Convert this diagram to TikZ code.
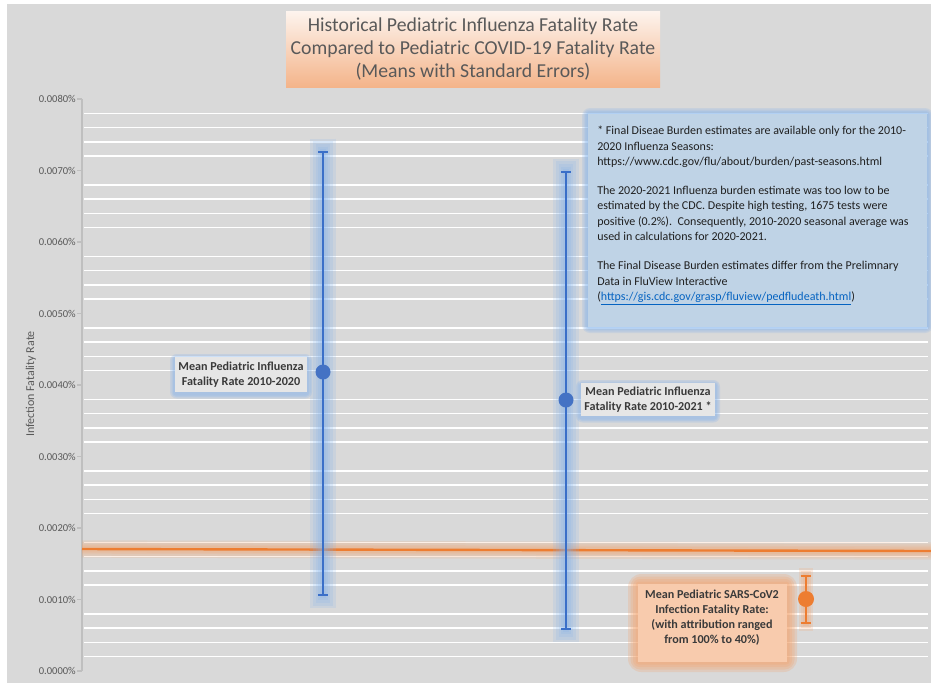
\documentclass[tikz,border=0pt]{standalone}
\usepackage{fontspec}
\setmainfont{Carlito}
\definecolor{bg}{HTML}{D9D9D9}
\definecolor{txtgray}{HTML}{595959}
\definecolor{darktxt}{HTML}{3A3A3A}
\definecolor{axisgray}{HTML}{BFBFBF}
\definecolor{bluecore}{HTML}{3A6FC8}
\definecolor{blueglow}{HTML}{7FB0EC}
\definecolor{bluemark}{HTML}{4472C4}
\definecolor{orangecore}{HTML}{ED7D31}
\definecolor{orangeglow}{HTML}{F4A46E}
\definecolor{orangefill}{HTML}{F8CBAD}
\definecolor{notefill}{HTML}{BFD3E6}
\definecolor{linkblue}{HTML}{0563C1}
\definecolor{titletop}{HTML}{FDF4EE}
\definecolor{titlebot}{HTML}{F4B48A}
\definecolor{labelfill}{HTML}{E6E6E6}
\tikzset{
  ticklbl/.style={anchor=east, text=txtgray, font=\fontsize{7.9}{8}\selectfont, inner sep=0pt},
  gridln/.style={white, line width=1.1pt},
  bcore/.style={bluecore, line width=1.6pt},
  ocore/.style={orangecore, line width=1.8pt},
  meanlbl/.style={text=darktxt, font=\bfseries\fontsize{9.1}{11.3}\selectfont, align=center, inner sep=0pt},
}
\begin{document}
\begin{tikzpicture}[x=0.75pt,y=-0.75pt]
\useasboundingbox (0,0) rectangle (931,683);
\fill[white] (0,0) rectangle (931,683);
\fill[bg] (7,4) rectangle (931,683);
% gridlines (minor only)
\foreach \m in {0,...,7}{
  \foreach \k in {1,...,4}{
    \draw[gridln] (84,{671-(\m*5+\k)*14.3}) -- (928,{671-(\m*5+\k)*14.3});
  }
}
% axis
\draw[axisgray, line width=0.8pt] (82,99) -- (82,671);
\foreach \i/\t in {0/0.0000\%,1/0.0010\%,2/0.0020\%,3/0.0030\%,4/0.0040\%,5/0.0050\%,6/0.0060\%,7/0.0070\%,8/0.0080\%}{
  \draw[axisgray, line width=0.8pt] (77,{671-\i*71.5}) -- (82,{671-\i*71.5});
  \node[ticklbl] (tl\i) at (76,{671-\i*71.5}) {\t};
}
\node[rotate=90, text=txtgray, font=\fontsize{9}{10}\selectfont] (ytitle) at (31,384) {Infection Fatality Rate};

% title
\shade[top color=titletop, bottom color=titlebot] (286,11) rectangle (660,87);
\node[text=txtgray, font=\fontsize{14.8}{17.3}\selectfont, align=center] (title) at (473,49)
  {Historical Pediatric Influenza Fatality Rate\\Compared to Pediatric COVID-19 Fatality Rate\\(Means with Standard Errors)};

% orange horizontal line with glow
\coordinate (oL) at (82,549);
\coordinate (oR) at (931,551);
\foreach \w in {13,10,7,5}{
  \draw[orangeglow, line width=\w pt, opacity=0.17] (oL) -- (oR);
}
\draw[ocore] (oL) -- (oR);

% blue error bar 1
\coordinate (b1t) at (323,152);
\coordinate (b1b) at (323,595);
\coordinate (b1m) at (323,372);
\foreach \w/\e in {19/10,15/8,11/6,8/4,5/2}{
  \draw[blueglow, line width=\w pt, opacity=0.16] ([yshift=\e]b1t) -- ([yshift=-\e]b1b);
}
\draw[bcore] (b1t) -- (b1b);
\draw[bcore] ([xshift=-3.5]b1t) -- ([xshift=3.5]b1t);
\draw[bcore] ([xshift=-3.5]b1b) -- ([xshift=3.5]b1b);
\fill[bluemark] (b1m) circle (7.5);

% blue error bar 2
\coordinate (b2t) at (566,172);
\coordinate (b2b) at (566,629);
\coordinate (b2m) at (566,400);
\foreach \w/\e in {19/10,15/8,11/6,8/4,5/2}{
  \draw[blueglow, line width=\w pt, opacity=0.16] ([yshift=\e]b2t) -- ([yshift=-\e]b2b);
}
\draw[bcore] (b2t) -- (b2b);
\draw[bcore] ([xshift=-3.5]b2t) -- ([xshift=3.5]b2t);
\draw[bcore] ([xshift=-3.5]b2b) -- ([xshift=3.5]b2b);
\fill[bluemark] (b2m) circle (7.5);

% orange error bar
\coordinate (o1t) at (806,576);
\coordinate (o1b) at (806,623);
\coordinate (o1m) at (806,599);
\foreach \w/\e in {11/6,8/4,5/2}{
  \draw[orangeglow, line width=\w pt, opacity=0.2] ([yshift=\e]o1t) -- ([yshift=-\e]o1b);
}
\draw[ocore] (o1t) -- (o1b);
\draw[ocore] ([xshift=-4]o1t) -- ([xshift=4]o1t);
\draw[ocore] ([xshift=-4]o1b) -- ([xshift=4]o1b);
\fill[orangecore] (o1m) circle (8);

% note box
\foreach \d in {6,4.5,3,1.5}{
  \fill[blueglow, opacity=0.2, rounded corners=\d] ({588-\d},{114-\d}) rectangle ({927+\d},{327+\d});
}
\fill[notefill] (588,114) rectangle (927,327);
\node[anchor=north west, text=black!88, font=\fontsize{9}{11.6}\selectfont, align=left, inner sep=0pt] (note) at (597,126)
{* Final Diseae Burden estimates are available only for the 2010-\\
2020 Influenza Seasons:\\
https://www.cdc.gov/flu/about/burden/past-seasons.html\\[10pt]
The 2020-2021 Influenza burden estimate was too low to be\\
estimated by the CDC. Despite high testing, 1675 tests were\\
positive (0.2\%).\ \ Consequently, 2010-2020 seasonal average was\\
used in calculations for 2020-2021.\\[10pt]
The Final Disease Burden estimates differ from the Prelimnary\\
Data in FluView Interactive\\
(\textcolor{linkblue}{\underline{https://gis.cdc.gov/grasp/fluview/pedfludeath.html}})};

% label 1
\foreach \d in {5,3.5,2}{
  \fill[blueglow, opacity=0.22, rounded corners=\d] ({175-\d},{357-\d+2}) rectangle ({307+\d},{392+\d+1.5});
}
\fill[labelfill] (175,357) rectangle (307,392);
\node[meanlbl] (lbl1) at (241,375) {Mean Pediatric Influenza\\Fatality Rate 2010-2020};

% label 2
\foreach \d in {5,3.5,2}{
  \fill[blueglow, opacity=0.22, rounded corners=\d] ({581-\d},{383-\d+2}) rectangle ({715+\d},{416+\d+1.5});
}
\fill[labelfill] (581,383) rectangle (715,416);
\node[meanlbl] (lbl2) at (648,400) {Mean Pediatric Influenza\\Fatality Rate 2010-2021 *};

% orange label
\foreach \d in {10,7.5,5,2.5}{
  \fill[orangeglow, opacity=0.25, rounded corners=\d] ({638-\d},{584-\d}) rectangle ({787+\d},{662+\d});
}
\fill[orangefill] (638,584) rectangle (787,662);
\node[meanlbl] (lbl3) at (712,618)
  {Mean Pediatric SARS-CoV2\\Infection Fatality Rate:\\(with attribution ranged\\from 100\% to 40\%)};
\end{tikzpicture}
\end{document}
